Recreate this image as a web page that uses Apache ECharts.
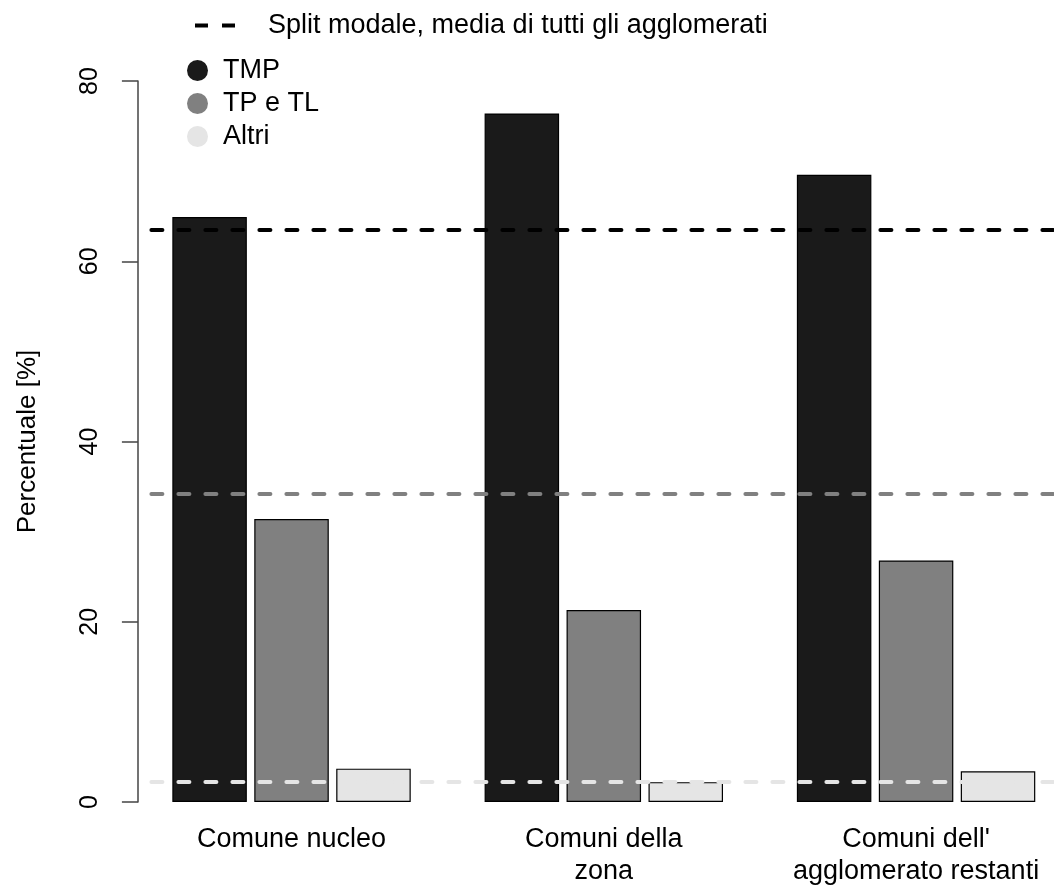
<!DOCTYPE html>
<html>
<head>
<meta charset="utf-8">
<script src="https://cdn.jsdelivr.net/npm/echarts@6/dist/echarts.min.js"></script>
<style>
html,body{margin:0;padding:0;background:#fff;overflow:hidden;}
#chart{width:1100px;height:888px;}
</style>
</head>
<body>
<div id="chart"></div>
<script>
const categories = ['Comune nucleo', 'Comuni della\nzona', "Comuni dell'\nagglomerato restanti"];
const seriesNames = ['TMP', 'TP e TL', 'Altri'];
const tmpValues = [64.9, 76.4, 69.6];
const tptlValues = [31.4, 21.3, 26.8];
const altriValues = [3.7, 2.2, 3.4];
const meanName = 'Split modale, media di tutti gli agglomerati';
const meanValues = [63.5, 34.2, 2.3];
const yTicks = [0, 20, 40, 60, 80];

const barColors = ['#1a1a1a', '#808080', '#e5e5e5'];
const lineColors = ['#000000', '#808080', '#e5e5e5'];
const FONT = '"Liberation Sans", Arial, sans-serif';

const chart = echarts.init(document.getElementById('chart'), null, {renderer: 'canvas'});

const barData = [tmpValues, tptlValues, altriValues];
const barSeries = seriesNames.map((n, i) => ({
  name: n,
  type: 'bar',
  data: barData[i],
  barWidth: 74.5,
  barGap: '10%',
  z: 2,
  itemStyle: {color: barColors[i], borderColor: '#000', borderWidth: 1.2},
  emphasis: {disabled: true}
}));

const lineSeries = {
  name: meanName,
  type: 'line',
  data: [],
  z: 5,
  lineStyle: {color: '#000', type: [11, 16], width: 4},
  markLine: {
    silent: true,
    symbol: ['none', 'none'],
    label: {show: false},
    z: 5,
    data: meanValues.map((v, i) => ({
      yAxis: v,
      lineStyle: {color: lineColors[i], type: [11, 16], dashOffset: 11, width: 4, cap: 'round'}
    }))
  }
};

chart.setOption({
  animation: false,
  backgroundColor: '#fff',
  textStyle: {fontFamily: FONT},
  grid: {left: 135.4, width: 936.8, top: 81, height: 725, containLabel: false},
  legend: [
    {
      data: [meanName],
      left: 190, top: 7,
      icon: 'path://M0,0h13v4h-13z M27,0h13v4h-13z',
      itemWidth: 40, itemHeight: 5,
      itemStyle: {color: '#000', borderWidth: 0},
      textStyle: {fontSize: 27, color: '#000', fontFamily: FONT, padding: [0, 0, 0, 28]},
      selectedMode: false
    },
    {
      data: seriesNames,
      orient: 'vertical',
      left: 182, top: 52,
      icon: 'circle',
      itemWidth: 21, itemHeight: 21,
      itemGap: 6,
      itemStyle: {borderWidth: 0},
      textStyle: {fontSize: 27, color: '#000', fontFamily: FONT, padding: [0, 0, 0, 10]},
      selectedMode: false
    }
  ],
  xAxis: {
    type: 'category',
    data: categories,
    axisLine: {show: false},
    axisTick: {show: false},
    axisLabel: {fontSize: 27, color: '#000', fontFamily: FONT, lineHeight: 32, margin: 22, interval: 0}
  },
  yAxis: {
    type: 'value',
    min: yTicks[0], max: yTicks[yTicks.length - 1], interval: 20,
    offset: -2.5,
    name: 'Percentuale [%]',
    nameLocation: 'middle',
    nameRotate: 90,
    nameGap: 97,
    nameTextStyle: {fontSize: 26, color: '#000', fontFamily: FONT},
    axisLine: {show: true, lineStyle: {color: '#444', width: 1.5}},
    axisTick: {show: true, length: 16, lineStyle: {color: '#444', width: 1.5}},
    splitLine: {show: false},
    axisLabel: {fontSize: 25, color: '#000', fontFamily: FONT, rotate: 90, margin: 35}
  },
  series: [...barSeries, lineSeries]
});
</script>
</body>
</html>
